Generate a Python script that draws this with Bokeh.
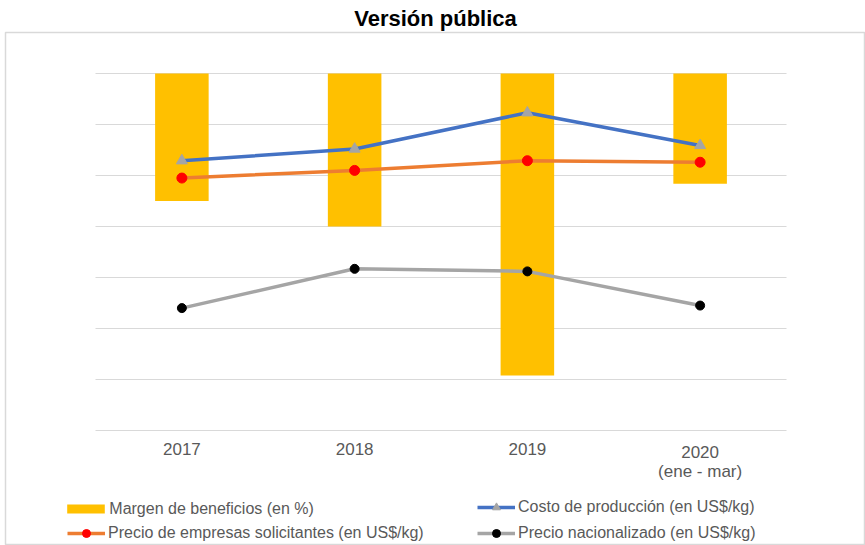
from bokeh.plotting import figure
from bokeh.models import (Range1d, FixedTicker, Legend, LegendItem, ColumnDataSource, Grid)
from bokeh.core.properties import value
from bokeh.embed import file_html
from bokeh.resources import INLINE

# ---- data (units hidden in the public version) ----
years = ["2017", "2018", "2019", "2020\n(ene - mar)"]
margen_beneficios = [-12.5, -15.0, -29.6, -10.8]      # % (secondary axis)
costo_produccion = [5.29, 5.52, 6.23, 5.59]           # US$/kg
precio_solicitantes = [4.95, 5.10, 5.29, 5.26]        # US$/kg
precio_nacionalizado = [2.40, 3.17, 3.12, 2.45]       # US$/kg
grid_ticks = [0, 1, 2, 3, 4, 5, 6, 7]

title_text = "Versión pública"
lbl_margen = "Margen de beneficios (en %)"
lbl_costo = "Costo de producción (en US$/kg)"
lbl_solic = "Precio de empresas solicitantes (en US$/kg)"
lbl_nac = "Precio nacionalizado (en US$/kg)"

FONT = "Liberation Sans"
TXT = "#595959"
GRID = "#D9D9D9"

# ---- layout geometry (pixels) ----
W, H = 865, 545
TOP = 32                      # frame top (chart box)
LEFT = 5                      # frame left (chart box)
PLOT_L, PLOT_R = 95, 786      # category band
Y7, Y0 = 73, 430              # pixel rows of the top gridline and of the baseline
PX = (Y0 - Y7) / 7.0          # pixels per unit (primary)
PXM = (Y0 - Y7) / 35.0        # pixels per % (secondary)
band = (PLOT_R - PLOT_L) / len(years)

xpos = [i + 0.5 for i in range(len(years))]

src = ColumnDataSource(dict(x=xpos, year=years, margen=margen_beneficios, costo=costo_produccion,
                            solic=precio_solicitantes, nac=precio_nacionalizado))

x_range = Range1d(-(PLOT_L - LEFT) / band, len(years) + (W - PLOT_R) / band)
y_range = Range1d(-(H - Y0) / PX, 7 + (Y7 - TOP) / PX)

p = figure(width=W, height=H, x_range=x_range, y_range=y_range,
           output_backend="svg", toolbar_location=None,
           min_border_left=LEFT, min_border_right=0, min_border_top=TOP, min_border_bottom=0)
p.extra_y_ranges = {"margen": Range1d(-35 - (H - Y0) / PXM, (Y7 - TOP) / PXM)}
p.outline_line_color = GRID
p.outline_line_width = 1.5
p.background_fill_color = "white"
p.border_fill_color = "white"

p.title.text = title_text
p.title.align = "center"
p.title.text_font = FONT
p.title.text_font_size = "22px"
p.title.text_font_style = "bold"
p.title.text_color = "black"
p.title.standoff = 4
p.title.offset = 0

p.xaxis.visible = False
p.yaxis.visible = False
p.xgrid.visible = False

if "cross_bounds" in Grid.properties():
    p.ygrid.ticker = FixedTicker(ticks=grid_ticks)
    p.ygrid.cross_bounds = (0, len(years))
    p.ygrid.grid_line_color = GRID
    p.ygrid.grid_line_width = 1
else:
    p.ygrid.visible = False
    p.segment(x0=0, x1=len(years), y0=grid_ticks, y1=grid_ticks,
              line_color=GRID, line_width=1)

bars = p.vbar(x="x", top=0, bottom="margen", width=0.31, source=src, y_range_name="margen",
              fill_color="#FFC000", line_color=None)

l_costo = p.line(x="x", y="costo", source=src, line_color="#4472C4", line_width=3.5)
s_costo = p.scatter(x="x", y="costo", source=src, marker="triangle", size=11,
                    fill_color="#A5A5A5", line_color="#A5A5A5")
l_solic = p.line(x="x", y="solic", source=src, line_color="#ED7D31", line_width=3.5)
s_solic = p.scatter(x="x", y="solic", source=src, marker="circle", size=10,
                    fill_color="#FF0000", line_color="#FF0000")
l_nac = p.line(x="x", y="nac", source=src, line_color="#A5A5A5", line_width=3.5)
s_nac = p.scatter(x="x", y="nac", source=src, marker="circle", size=9,
                  fill_color="black", line_color="black")

# category labels under the baseline
p.text(x="x", y=0, text="year", source=src, y_offset=12, text_align="center",
       text_baseline="top", text_font=value(FONT), text_font_size="17px",
       text_color=TXT, text_line_height=1.0)


def make_legend(items, loc, gw=38, gh=20, lh=20, standoff=3):
    return Legend(items=items, location=loc, orientation="vertical",
                  glyph_width=gw, glyph_height=gh, label_height=lh, label_standoff=standoff,
                  spacing=6, padding=0, margin=0, border_line_color=None,
                  background_fill_alpha=0, label_text_font=FONT,
                  label_text_font_size="16px", label_text_color=TXT)


# bar swatch: thin bar (the legend insets the box by 10%)
legA1 = make_legend([LegendItem(label=lbl_margen, renderers=[bars])],
                    (67 - LEFT - 4.7, 27.5), gw=47, gh=11, lh=11, standoff=0)
legA2 = make_legend([LegendItem(label=lbl_solic, renderers=[l_solic, s_solic])],
                    (67 - LEFT, 2))
legB = make_legend([LegendItem(label=lbl_costo, renderers=[l_costo, s_costo]),
                    LegendItem(label=lbl_nac, renderers=[l_nac, s_nac])],
                   (477 - LEFT, 2))
p.add_layout(legA1)
p.add_layout(legA2)
p.add_layout(legB)

open("out.html", "w").write(file_html(p, INLINE))
